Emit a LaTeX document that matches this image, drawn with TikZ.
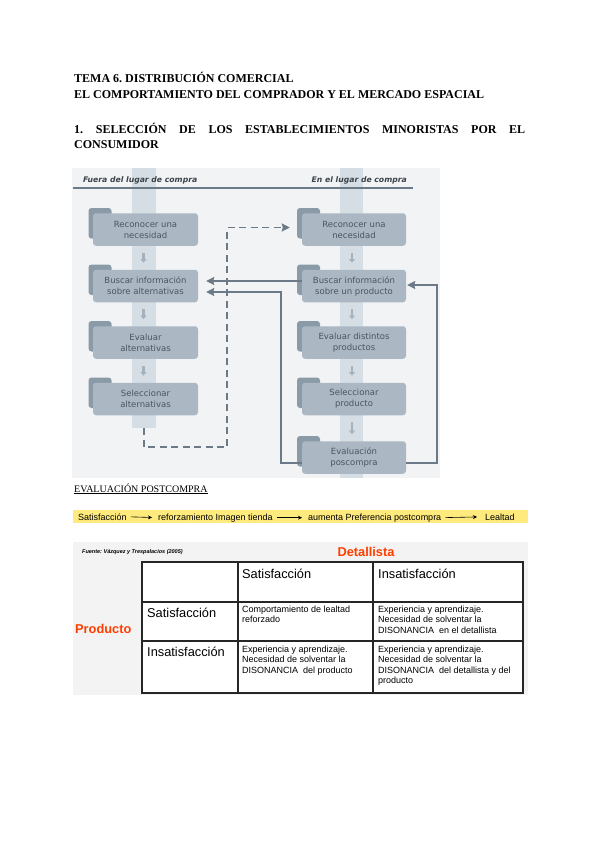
\documentclass[tikz,border=0pt]{standalone}
\usepackage{fontspec}
\setmainfont{Liberation Serif}
\newfontfamily\diagfont{DejaVu Sans}
\newfontfamily\tablafont{Liberation Sans}
\usetikzlibrary{positioning,arrows.meta,calc}
\definecolor{fondodiag}{RGB}{242,243,244}
\definecolor{franja}{RGB}{214,222,229}
\definecolor{caja}{RGB}{171,184,196}
\definecolor{pestana}{RGB}{139,154,167}
\definecolor{textocaja}{RGB}{72,86,99}
\definecolor{conector}{RGB}{108,122,135}
\definecolor{flechita}{RGB}{165,177,188}
\definecolor{cabecera}{RGB}{58,66,75}
\definecolor{amarillo}{RGB}{255,235,125}
\definecolor{naranja}{RGB}{255,62,0}
\definecolor{fondotabla}{RGB}{243,243,243}
\newcommand{\tabcaja}[2]{\fill[pestana,rounded corners=3pt] (#1-57,#2-21.5) rectangle (#1-34,#2+9);}
\frenchspacing

\begin{document}
\begin{tikzpicture}[x=1pt,y=-1pt,
    titulo/.style={font=\bfseries\fontsize{12}{14}\selectfont,inner sep=0pt},
    encabezado/.style={font=\diagfont\bfseries\itshape\fontsize{7.7}{9}\selectfont,text=cabecera,inner sep=0pt},
    paso/.style={rounded corners=3pt,fill=caja,text=textocaja,minimum width=105pt,minimum height=32.5pt,
        align=center,inner sep=1pt,font=\diagfont\fontsize{8.5}{11}\selectfont},
    bajada/.style={flechita,line width=2.5pt,-{Triangle[width=6pt,length=3.5pt]},shorten <=7pt,shorten >=7pt},
    enlace/.style={draw=conector,line width=1.8pt,-{Stealth[length=8pt,width=8pt,inset=1pt]}},
    discontinua/.style={enlace,dash pattern=on 7pt off 4.5pt},
    barra/.style={font=\tablafont\fontsize{9}{10}\selectfont,anchor=base west,inner sep=0pt},
    paso barra/.style={line width=0.6pt,-{Stealth[length=4pt,width=4pt]},shorten <=4pt,shorten >=6pt},
    celda/.style={font=\tablafont\fontsize{9}{10.6}\selectfont,anchor=base west,align=left,inner sep=0pt},
    rotulo/.style={font=\tablafont\fontsize{12.8}{15}\selectfont,anchor=base west,inner sep=0pt},
    rejilla/.style={line width=1.2pt,black!85}]
  \useasboundingbox (0,0) rectangle (600,848);
  \fill[white] (0,0) rectangle (600,848);

  \node[titulo,anchor=base west] (tema) at (74,83) {TEMA 6. DISTRIBUCIÓN COMERCIAL};
  \node[titulo,anchor=base west] (capitulo) at (74,99) {EL COMPORTAMIENTO DEL COMPRADOR Y EL MERCADO ESPACIAL};
  \node[titulo,anchor=base west] (seccion) at (74,133)
    {\makebox[451pt][s]{1. SELECCIÓN DE LOS ESTABLECIMIENTOS MINORISTAS POR EL}};
  \node[titulo,anchor=base west] (consumidor) at (74,149) {CONSUMIDOR};

  % proceso de compra
  \fill[fondodiag] (72,168) rectangle (440,478);
  \fill[franja] (132,168) rectangle (156,428);
  \fill[franja] (340,168) rectangle (363,478);
  \node[encabezado,anchor=base west] (fuera) at (83,182) {Fuera del lugar de compra};
  \node[encabezado,anchor=base east] (dentro) at (407,182) {En el lugar de compra};
  \draw[conector,line width=1.2pt] (73,188) -- (413,188);

  \foreach \n/\y/\txt in {1/229.5/{Reconocer una\\necesidad},2/286/{Buscar información\\sobre alternativas},
      3/342.5/{Evaluar\\alternativas},4/399/{Seleccionar\\alternativas}}{
    \tabcaja{145.5}{\y}
    \node[paso] (izq\n) at (145.5,\y) {\txt};
  }
  \foreach \n/\y/\txt in {1/229.5/{Reconocer una\\necesidad},2/286/{Buscar información\\sobre un producto},
      3/342.5/{Evaluar distintos\\productos},4/399/{Seleccionar\\producto},5/457.5/{Evaluación\\poscompra}}{
    \tabcaja{354}{\y}
    \node[paso,minimum width=104pt] (der\n) at (354,\y) {\txt};
  }
  \foreach \a/\b in {izq1/izq2,izq2/izq3,izq3/izq4,der1/der2,der2/der3,der3/der4,der4/der5}
    \draw[bajada] ([xshift=-2pt]\a.south) -- ([xshift=-2pt]\b.north);

  \coordinate (finfranja) at (144,428);
  \coordinate (codo) at (227,447);
  \coordinate (codoint) at (281,292);
  \coordinate (codoext) at (437,285);
  \draw[discontinua,shorten >=12pt] (finfranja) |- (codo) |- ([yshift=2pt]der1.west);
  \draw[enlace,shorten >=8pt] ([yshift=5pt]der2.west) -- ([yshift=5pt]izq2.east);
  \draw[enlace,shorten >=8pt] ([yshift=-5.5pt]der5.west) -| (codoint) -- (codoint -| izq2.east);
  \draw[enlace,shorten >=1pt] ([yshift=-5.5pt]der5.east) -| (codoext) -- (codoext -| der2.east);

  % evaluacion postcompra
  \node[anchor=base west,font=\fontsize{10}{12}\selectfont,inner sep=0pt] (evaluacion) at (74,492)
    {\underline{EVALUACIÓN POSTCOMPRA}};
  \fill[amarillo] (73,510) rectangle (528,523);
  \node[barra] (s1) at (78,520) {Satisfacción};
  \node[barra] (s2) at (158,520) {reforzamiento Imagen tienda};
  \node[barra] (s3) at (308,520) {aumenta Preferencia postcompra};
  \node[barra] (s4) at (485,520) {Lealtad};
  \draw[paso barra] (s1.east) -- (s2.west);
  \draw[paso barra] (s2.east) -- (s3.west);
  \draw[paso barra,shorten >=8pt] (s3.east) -- (s4.west);

  % matriz producto / detallista
  \fill[fondotabla] (73,542) rectangle (528,695);
  \node[anchor=base west,inner sep=0pt,font=\tablafont\bfseries\itshape\fontsize{5.5}{6}\selectfont] (fuente) at (82,553)
    {Fuente: Vázquez y Trespalacios (2005)};
  \node[anchor=base,inner sep=0pt,text=naranja,font=\tablafont\bfseries\fontsize{12.8}{15}\selectfont] (detallista) at (366,556) {Detallista};
  \node[anchor=base west,inner sep=0pt,text=naranja,font=\tablafont\bfseries\fontsize{12.8}{15}\selectfont] (producto) at (75,633) {Producto};
  \fill[white] (142,562) rectangle (523,693);
  \draw[rejilla] (142,562) rectangle (523,693);
  \foreach \x in {238,373} \draw[rejilla] (\x,562) -- (\x,693);
  \foreach \y in {602,641} \draw[rejilla] (142,\y) -- (523,\y);

  \node[rotulo] (csat) at (242,578) {Satisfacción};
  \node[rotulo] (cins) at (378,578) {Insatisfacción};
  \node[rotulo] (fsat) at (147,617) {Satisfacción};
  \node[rotulo] (fins) at (147,656) {Insatisfacción};
  % base = ultima linea de cada celda
  \node[celda] (satsat) at (242,622.6) {Comportamiento de lealtad\\reforzado};
  \node[celda] (satins) at (378,633.2) {Experiencia y aprendizaje.\\Necesidad de solventar la\\DISONANCIA \ en el detallista};
  \node[celda] (inssat) at (242,673.2) {Experiencia y aprendizaje.\\Necesidad de solventar la\\DISONANCIA \ del producto};
  \node[celda] (insins) at (378,683.8) {Experiencia y aprendizaje.\\Necesidad de solventar la\\DISONANCIA \ del detallista y del\\producto};
\end{tikzpicture}
\end{document}
